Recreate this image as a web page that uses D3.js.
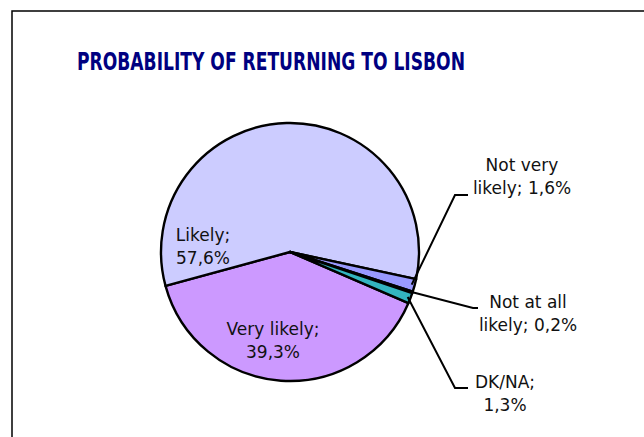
<!DOCTYPE html>
<html>
    <head>
        <meta charset="utf-8">
        <script type="text/javascript" src="https://d3js.org/d3.v7.min.js"></script>
        <style>
            html, body {
                margin: 0;
                padding: 0;
                background: #fff;
            }
            svg text {
                font-family: "DejaVu Sans", sans-serif;
                fill: #111;
            }
            svg .title {
                font-family: "DejaVu Sans Condensed", "DejaVu Sans", sans-serif;
                font-weight: bold;
                fill: #000080;
            }
        </style>
    </head>
    <body>
        <div id="chart"></div>

        <script>
            // values (percent)
            var categories = ["Very likely", "Likely", "Not very likely", "Not at all likely", "DK/NA"];
            var values = [39.3, 57.6, 1.6, 0.2, 1.3];
            var valueLabels = ["39,3%", "57,6%", "1,6%", "0,2%", "1,3%"];
            var labelLines = [
                ["Very likely;", "39,3%"],
                ["Likely;", "57,6%"],
                ["Not very", "likely; 1,6%"],
                ["Not at all", "likely; 0,2%"],
                ["DK/NA;", "1,3%"]
            ];
            var colors = ["#cc99ff", "#ccccff", "#9999ff", "#6a3d8f", "#33b5c0"];

            var width = 644, height = 437;
            var cx = 290, cy = 252, radius = 129;

            // where each label sits, relative to the pie centre; leader = elbow point (if any)
            var labelPos = [
                {x: -17, y: 83, leader: null},
                {x: -87, y: -11, leader: null},
                {x: 232, y: -81, leader: [[165, -57], [178, -57]]},
                {x: 238, y: 56, leader: [[183, 56], [188, 56]]},
                {x: 215, y: 136, leader: [[165, 136], [178, 136]]}
            ];

            var svg = d3.select("#chart")
                .append("svg")
                    .attr("width", width)
                    .attr("height", height);

            svg.append("rect")
                .attr("x", 12)
                .attr("y", 11)
                .attr("width", 700)
                .attr("height", 500)
                .attr("fill", "#fff")
                .attr("stroke", "#000")
                .attr("stroke-width", 1.5);

            svg.append("text")
                .attr("class", "title")
                .attr("x", 271)
                .attr("y", 70)
                .attr("text-anchor", "middle")
                .attr("font-size", "24px")
                .attr("textLength", 388)
                .attr("lengthAdjust", "spacingAndGlyphs")
                .text("PROBABILITY OF RETURNING TO LISBON");

            var startDeg = 113.3;
            var pie = d3.pie()
                .sort(null)
                .value(function(d) { return d; })
                .startAngle(startDeg * Math.PI / 180)
                .endAngle((startDeg + 360) * Math.PI / 180);

            var arc = d3.arc().innerRadius(0).outerRadius(radius);

            var g = svg.append("g")
                .attr("transform", "translate(" + cx + "," + cy + ")");

            var arcs = pie(values);

            g.selectAll("path.slice")
                .data(arcs)
                .enter()
                .append("path")
                .attr("class", "slice")
                .attr("d", arc)
                .attr("fill", function(d, i) { return colors[i]; })
                .attr("stroke", "#000")
                .attr("stroke-width", 2.4)
                .attr("stroke-linejoin", "round");

            // leader lines from the rim to the outside labels
            g.selectAll("path.leader")
                .data(arcs.filter(function(d, i) { return labelPos[i].leader; }))
                .enter()
                .append("path")
                .attr("class", "leader")
                .attr("fill", "none")
                .attr("stroke", "#000")
                .attr("stroke-width", 2)
                .attr("d", function(d) {
                    var i = d.index;
                    var mid = (d.startAngle + d.endAngle) / 2;
                    var p0 = [Math.sin(mid) * (radius - 3), -Math.cos(mid) * (radius - 3)];
                    return d3.line()([p0].concat(labelPos[i].leader));
                });

            var labels = g.selectAll("text.label")
                .data(arcs)
                .enter()
                .append("text")
                .attr("class", "label")
                .attr("text-anchor", "middle")
                .attr("font-size", "17px")
                .attr("x", function(d) { return labelPos[d.index].x; })
                .attr("y", function(d) { return labelPos[d.index].y; });

            labels.selectAll("tspan")
                .data(function(d) { return labelLines[d.index]; })
                .enter()
                .append("tspan")
                .attr("x", function() { return d3.select(this.parentNode).attr("x"); })
                .attr("dy", function(d, i) { return i === 0 ? 0 : 23; })
                .text(function(d) { return d; });
        </script>
    </body>
</html>
